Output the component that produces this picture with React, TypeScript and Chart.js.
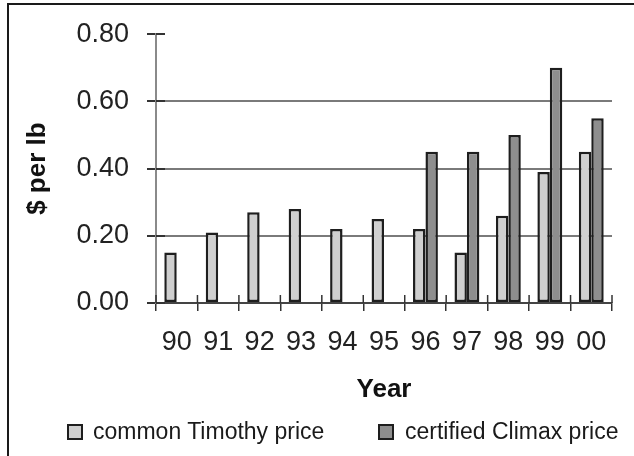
import React, { useEffect, useRef } from "react";
import { Chart, registerables } from "chart.js";

Chart.register(...registerables);

const years = ["90", "91", "92", "93", "94", "95", "96", "97", "98", "99", "00"];
const timothyPrice = [0.15, 0.21, 0.27, 0.28, 0.22, 0.25, 0.22, 0.15, 0.26, 0.39, 0.45];
const climaxPrice = [null, null, null, null, null, null, 0.45, 0.45, 0.5, 0.7, 0.55];
const seriesNames = ["common Timothy price", "certified Climax price"];
const seriesColors = ["#cfcfcf", "#8e8e8e"];
const yMin = 0;
const yMax = 0.8;
const yStep = 0.2;
const xTitle = "Year";
const yTitle = "$ per lb";

const SANS = "'Liberation Sans', Arial, Helvetica, sans-serif";

const crossTicks = {
  id: "crossTicks",
  afterDraw(chart: any) {
    const { ctx, chartArea, scales } = chart;
    const x = scales.x;
    const y = scales.y;
    ctx.save();
    ctx.strokeStyle = "#333";
    ctx.lineWidth = 2;
    y.ticks.forEach((t: any) => {
      const py = Math.round(y.getPixelForValue(t.value));
      ctx.beginPath();
      ctx.moveTo(chartArea.left, py);
      ctx.lineTo(chartArea.left + 9, py);
      ctx.stroke();
    });
    ctx.lineWidth = 1.5;
    for (let i = 0; i <= years.length; i++) {
      const px = x.getPixelForValue(i - 0.5);
      ctx.beginPath();
      ctx.moveTo(px, chartArea.bottom - 8);
      ctx.lineTo(px, chartArea.bottom);
      ctx.stroke();
    }
    ctx.restore();
  },
};

export default function App() {
  const ref = useRef<HTMLCanvasElement | null>(null);

  useEffect(() => {
    if (!ref.current) return;
    const chart = new Chart(ref.current, {
      type: "bar",
      data: {
        labels: years,
        datasets: [
          {
            label: seriesNames[0],
            data: timothyPrice,
            backgroundColor: seriesColors[0],
            borderColor: "#1e1e1e",
            borderWidth: 2.5,
            borderSkipped: false,
          },
          {
            label: seriesNames[1],
            data: climaxPrice as any,
            backgroundColor: seriesColors[1],
            borderColor: "#1e1e1e",
            borderWidth: 2.5,
            borderSkipped: false,
          },
        ],
      },
      options: {
        responsive: false,
        animation: false,
        devicePixelRatio: 1,
        datasets: { bar: { categoryPercentage: 0.6, barPercentage: 1 } },
        layout: { padding: { left: 10, top: 34, right: 22, bottom: 45 } },
        plugins: {
          legend: { display: false },
          tooltip: { enabled: false },
        },
        scales: {
          x: {
            afterFit: (s: any) => {
              s.height = 108;
            },
            grid: {
              offset: true,
              drawOnChartArea: false,
              drawTicks: true,
              tickLength: 8,
              tickColor: "#333",
              lineWidth: 1.5,
            },
            border: { display: true, color: "#444", width: 2 },
            ticks: {
              color: "#222",
              padding: 15,
              font: { family: SANS, size: 27 },
              maxRotation: 0,
              autoSkip: false,
            },
            title: {
              display: true,
              text: xTitle,
              color: "#111",
              font: { family: SANS, size: 26, weight: "bold" },
              padding: { top: 0, bottom: 6 },
            },
          },
          y: {
            min: yMin,
            max: yMax,
            afterFit: (s: any) => {
              s.width = 146;
            },
            grid: {
              color: (c: any) =>
                c.tick && c.tick.value > yMin + 1e-9 && c.tick.value < yMax - 1e-9 ? "#7a7a7a" : "rgba(0,0,0,0)",
              tickColor: "#333",
              tickLength: 9,
              lineWidth: 2,
            },
            border: { display: true, color: "#8a8a8a", width: 2 },
            ticks: {
              stepSize: yStep,
              color: "#222",
              padding: 18,
              font: { family: SANS, size: 27 },
              callback: (v: any) => Number(v).toFixed(2),
            },
            title: {
              display: true,
              text: yTitle,
              color: "#111",
              font: { family: SANS, size: 26, weight: "bold" },
              padding: { top: 12, bottom: 0 },
            },
          },
        },
      },
      plugins: [crossTicks],
    });
    return () => chart.destroy();
  }, []);

  const box = (color: string): React.CSSProperties => ({
    position: "absolute",
    width: 12,
    height: 12,
    top: 424,
    border: "2px solid #1e1e1e",
    background: color,
  });
  const label: React.CSSProperties = {
    position: "absolute",
    top: 416,
    fontFamily: SANS,
    fontSize: 23,
    lineHeight: "30px",
    color: "#1a1a1a",
    whiteSpace: "nowrap",
  };

  return (
    <div style={{ position: "fixed", left: 0, top: 0, width: 634, height: 456, overflow: "hidden", background: "#fff" }}>
      <div
        style={{
          position: "absolute",
          left: 7,
          top: 3,
          width: 700,
          height: 500,
          borderTop: "2px solid #1a1a1a",
          borderLeft: "2px solid #1a1a1a",
        }}
      />
      <canvas ref={ref} width={634} height={456} style={{ position: "absolute", left: 0, top: 0, width: 634, height: 456 }} />
      <div style={{ ...box(seriesColors[0]), left: 67 }} />
      <span style={{ ...label, left: 93 }}>{seriesNames[0]}</span>
      <div style={{ ...box(seriesColors[1]), left: 378 }} />
      <span style={{ ...label, left: 405 }}>{seriesNames[1]}</span>
    </div>
  );
}
